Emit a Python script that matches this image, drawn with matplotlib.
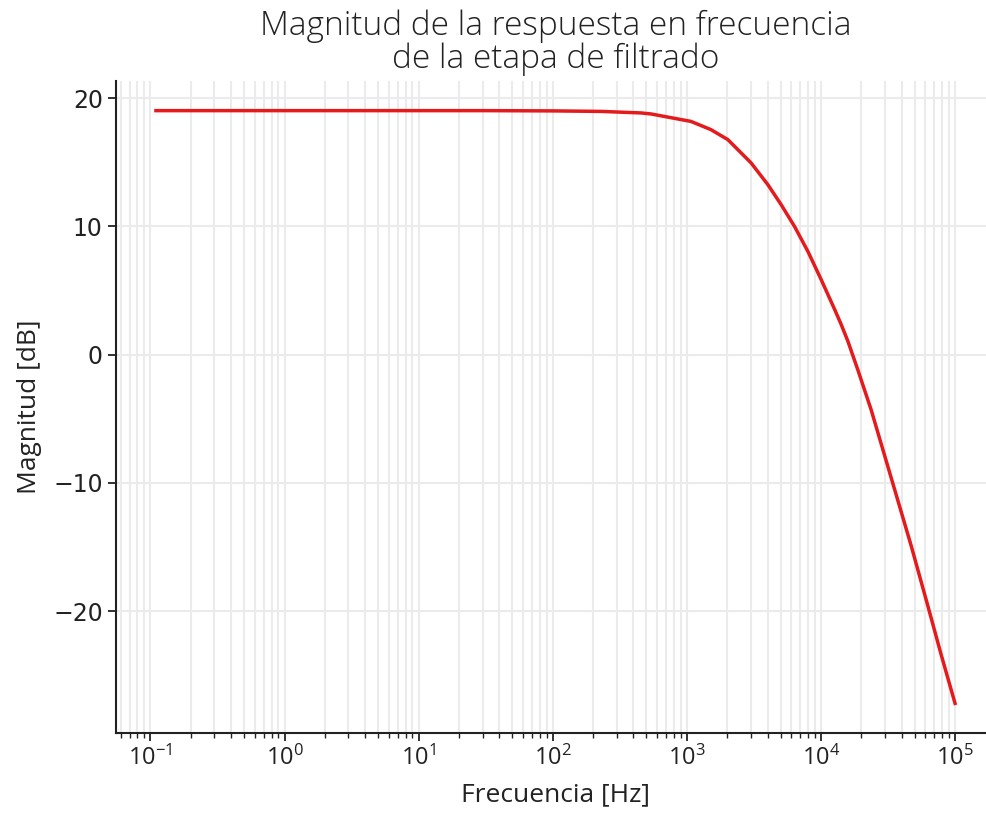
import matplotlib
matplotlib.use("Agg")
import matplotlib.pyplot as plt

plt.rcParams["font.family"] = ["Open Sans", "DejaVu Sans"]
plt.rcParams["mathtext.fontset"] = "dejavusans"

# valores
frecuencia = [0.11, 0.3, 1, 3, 10, 30, 100, 229.6, 455, 542, 1073, 1512, 2022,
              3016, 4018, 5049, 6344, 7986, 10035, 12610, 14150, 15870, 18850,
              23670, 33380, 47060, 62690, 78770, 100000]
magnitud_db = [19.02, 19.02, 19.02, 19.02, 19.02, 19.02, 19.0, 18.96, 18.84,
               18.76, 18.18, 17.54, 16.76, 14.94, 13.25, 11.69, 10.00, 8.05,
               5.85, 3.55, 2.35, 1.05, -1.2, -4.3, -9.6, -14.9, -19.6,
               -23.4, -27.2]

xticks = [1e-1, 1e0, 1e1, 1e2, 1e3, 1e4, 1e5]
yticks = [-20, -10, 0, 10, 20]

fig = plt.figure(figsize=(9.87, 8.13), dpi=100)
ax = fig.add_axes([116 / 987, 1 - 733 / 813, 879 / 987, 652 / 813])

ax.semilogx(frecuencia, magnitud_db, color="#e41a1c", lw=2.5, zorder=3)
ax.grid(True, which="both", color="#ebebeb", lw=1.5)
ax.set_axisbelow(True)

for s in ["top", "right"]:
    ax.spines[s].set_visible(False)
for s in ["left", "bottom"]:
    ax.spines[s].set_color("#222222")
    ax.spines[s].set_linewidth(1.5)

ax.set_xticks(xticks)
ax.set_yticks(yticks)
ax.tick_params(axis="both", which="major", labelsize=17, length=6, width=1.3,
               color="#222222", labelcolor="#222222")
ax.tick_params(axis="x", which="minor", length=3.5, width=1.0, color="#222222")
for lbl in ax.get_yticklabels():
    lbl.set_family("DejaVu Sans")

ax.set_xlabel("Frecuencia [Hz]", fontsize=19, color="#222222", labelpad=8)
ax.set_ylabel("Magnitud [dB]", fontsize=19, color="#222222", labelpad=8)
ax.set_title("Magnitud de la respuesta en frecuencia\nde la etapa de filtrado",
             fontsize=24, color="#222222", weight="light", pad=9,
             linespacing=1.0)

fig.savefig("out.png", dpi=100)
